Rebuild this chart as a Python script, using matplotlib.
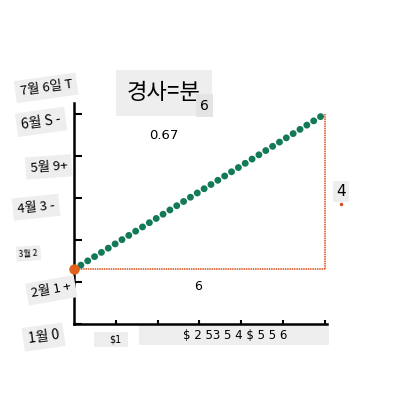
import matplotlib
matplotlib.use("Agg")
import matplotlib.pyplot as plt
from matplotlib.patches import Rectangle
from matplotlib.transforms import blended_transform_factory

plt.rcParams['font.family'] = ['Noto Sans CJK KR', 'DejaVu Sans']

# data
run = 6
rise = 4
x_start, y_start = 0, 1.3
x_end, y_end = 6, 5.0
slope_text = "0.67"
title_text = "경사=분"
title_sub = "6"
y_labels = ["1월 0", "2월 1 +", "3월 2", "4월 3 -", "5월 9+", "6월 S -", "7월 6일 T"]
y_label_vals = [0, 1, 2, 3, 4, 5, 6]
x_tick_vals = [1, 2, 3, 4, 5, 6]
x_label_first = r"\$1"
x_label_rest = r"\$ 2 53 5 4 \$ 5 5 6"

# styles
y_label_dx = [-0.12, -0.09, -0.18, -0.15, -0.10, -0.13, -0.11]
y_label_dy = [-0.31, -0.2, -0.32, -0.22, -0.26, -0.19, -0.38]
y_label_rot = [8, 10, 4, 6, 4, 8, 8]
y_label_size = [10, 9.5, 6, 9.5, 9.5, 10, 9.5]
box = dict(boxstyle="square,pad=0.35", facecolor="#eeeeee", edgecolor="none")

fig = plt.figure(figsize=(4, 4), dpi=100)
ax = fig.add_axes([0.185, 0.19, 0.6325, 0.5525])
ax.set_xlim(0, 6.05)
ax.set_ylim(0, 5.26)

green = "#137a57"
orange = "#e0601c"
red = "#d9501e"

# slope line (big round dots)
ax.plot([x_start, x_end], [y_start, y_end], color=green, linewidth=5,
        linestyle=(0, (0.01, 1.15)), dash_capstyle="round", zorder=3)
# run and rise
ax.plot([x_start, x_end], [y_start, y_start], color=red, linewidth=1.1,
        linestyle=(0, (1, 0.5)), zorder=2)
ax.plot([x_end, x_end], [y_start, y_end], color=red, linewidth=1.1,
        linestyle=(0, (1, 0.5)), zorder=2)
ax.plot([x_start], [y_start], marker="o", markersize=6.5, color=orange,
        clip_on=False, zorder=4)

ax.text((x_start + x_end) / 2 - 0.03, y_start - 0.4, str(run), fontsize=9,
        ha="center", va="center", family=['DejaVu Sans'])
ax.text(x_end + 0.38, (y_start + y_end) / 2, str(rise), fontsize=11,
        ha="center", va="center", family=['DejaVu Sans'],
        bbox=dict(boxstyle="square,pad=0.2", facecolor="#eeeeee", edgecolor="none"))
ax.plot([x_end + 0.38], [(y_start + y_end) / 2 - 0.3], marker="o", markersize=1.5,
        color=red, clip_on=False)

# title
ax.text(2.15, 5.5, title_text, fontsize=16, ha="center", va="center",
        bbox=dict(boxstyle="square,pad=0.5", facecolor="#eeeeee", edgecolor="none"),
        clip_on=False)
ax.text(3.12, 5.2, title_sub, fontsize=10, ha="center", va="center",
        family=['DejaVu Sans'],
        bbox=dict(boxstyle="square,pad=0.3", facecolor="#e4e4e4", edgecolor="none"),
        clip_on=False)
ax.text(2.15, 4.48, slope_text, fontsize=9.5, ha="center", va="center",
        family=['DejaVu Sans'])

# spines
for s in ["top", "right"]:
    ax.spines[s].set_visible(False)
for s in ["left", "bottom"]:
    ax.spines[s].set_linewidth(1.8)

ax.set_yticks([y for y in y_label_vals if y <= 5])
ax.set_yticklabels([])
ax.tick_params(axis="y", direction="in", length=6, width=1.5)
ax.set_xticks(x_tick_vals)
ax.set_xticklabels([])
ax.tick_params(axis="x", direction="in", length=3, width=1.5)

trans = blended_transform_factory(ax.transAxes, ax.transData)
for lab, v, dx, dy, r, fs in zip(y_labels, y_label_vals, y_label_dx,
                                  y_label_dy, y_label_rot, y_label_size):
    ax.text(dx, v + dy, lab, transform=trans, fontsize=fs, rotation=r,
            ha="center", va="center", bbox=box, clip_on=False)

ax.add_patch(Rectangle((0.47, -0.55), 0.83, 0.37, facecolor="#eeeeee",
                       edgecolor="none", clip_on=False, zorder=0))
ax.text(1.0, -0.38, x_label_first, fontsize=7, ha="center",
        va="center", family=['DejaVu Sans'], clip_on=False)
ax.add_patch(Rectangle((1.55, -0.5), 4.55, 0.48, facecolor="#eeeeee",
                       edgecolor="none", clip_on=False, zorder=0))
ax.text(3.85, -0.27, x_label_rest, fontsize=8.5, ha="center", va="center",
        family=['DejaVu Sans'], clip_on=False)

fig.savefig("out.png", dpi=100)
